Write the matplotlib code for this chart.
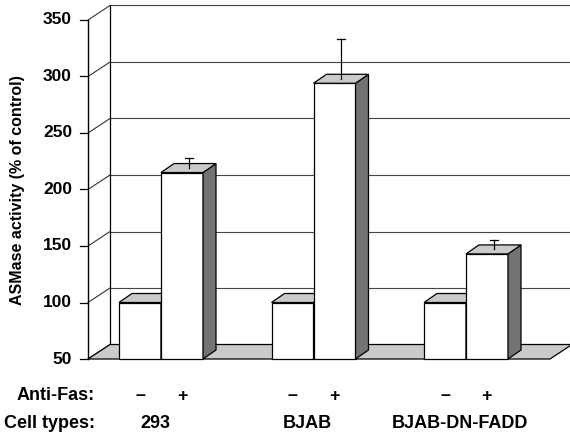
import matplotlib
matplotlib.use("Agg")
import matplotlib.pyplot as plt
from matplotlib.patches import Polygon

# data
cell_types = ["293", "BJAB", "BJAB-DN-FADD"]
anti_fas = ["\u2013", "+"]
minus_vals = [100, 100, 100]
plus_vals = [215, 294, 143]
plus_err = [9, 35, 8]
yticks = [50, 100, 150, 200, 250, 300, 350]

plt.rcParams['font.family'] = ['Liberation Sans', 'DejaVu Sans']
plt.rcParams['font.weight'] = 'bold'

# layout (1 x-unit = spacing between groups, y in data units)
PX = 1 / 152.5       # x units per pixel
PY = 1 / 1.13        # y units per pixel
bw = 42 * PX         # bar width
bdx, bdy = 13 * PX, 9 * PY      # bar depth
wdx, wdy = 22 * PX, 14.5 * PY   # wall depth
ybase, ytop = 50, 350
xf_left = -73 * PX
xf_right = 389 * PX

light = "#cacaca"
dark = "#737373"

fig = plt.figure(figsize=(5.7, 4.42), dpi=100)
ax = fig.add_axes([0, 0, 1, 1])
ax.set_xlim(-161 * PX, 409 * PX)
ax.set_ylim(ybase - 83 * PY, ybase + 359 * PY)
ax.axis('off')

# back wall grid
for t in yticks:
    ax.plot([xf_left - 8 * PX, xf_left], [t, t], color='black', lw=0.9, zorder=1)
    ax.plot([xf_left, xf_left + wdx], [t, t + wdy], color='#333333', lw=0.8, zorder=1)
    if t > ybase:
        ax.plot([xf_left + wdx, xf_right + wdx + 1], [t + wdy, t + wdy],
                color='#444444', lw=0.8, zorder=1)
ax.plot([xf_left + wdx] * 2, [ybase + wdy, ytop + wdy], color='black', lw=0.9, zorder=1)
ax.plot([xf_left] * 2, [ybase, ytop], color='black', lw=1.0, zorder=1)

# floor
floor = Polygon([(xf_left, ybase), (xf_right, ybase),
                 (xf_right + wdx, ybase + wdy), (xf_left + wdx, ybase + wdy)],
                closed=True, facecolor=light, edgecolor='black', lw=0.9, zorder=2)
ax.add_patch(floor)


def box(x0, val, z):
    x1 = x0 + bw
    ax.bar(x0, val - ybase, bottom=ybase, width=bw, align='edge',
           facecolor='white', edgecolor='black', lw=0.9, zorder=z)
    top = Polygon([(x0, val), (x1, val), (x1 + bdx, val + bdy), (x0 + bdx, val + bdy)],
                  closed=True, facecolor=light, edgecolor='black', lw=0.9, zorder=z)
    side = Polygon([(x1, ybase), (x1 + bdx, ybase + bdy), (x1 + bdx, val + bdy), (x1, val)],
                   closed=True, facecolor=dark, edgecolor='black', lw=0.9, zorder=z)
    ax.add_patch(side)
    ax.add_patch(top)


z = 3
for i in range(len(cell_types)):
    xm = i - bw
    xp = i
    box(xm, minus_vals[i], z)
    box(xp, plus_vals[i], z + 1)
    ex = xp + bw / 2 + bdx / 2
    ey = plus_vals[i] + bdy / 2
    ax.plot([ex, ex], [ey, ey + plus_err[i]], color='black', lw=0.9, zorder=z + 2)
    ax.plot([ex - 4 * PX, ex + 4 * PX], [ey + plus_err[i]] * 2, color='black',
            lw=0.9, zorder=z + 2)
    z += 3

    # labels under bars
    ax.text(xm + bw / 2, ybase - 37 * PY, anti_fas[0], ha='center', va='center', fontsize=13)
    ax.text(xp + bw / 2, ybase - 37 * PY, anti_fas[1], ha='center', va='center', fontsize=13)
    ax.text(i - 0.04, ybase - 65 * PY, cell_types[i], ha='center', va='center', fontsize=13)

for t in yticks:
    ax.text(xf_left - 16 * PX, t, str(t), ha='right', va='center', fontsize=12.5)

ax.text(95 * PX - 161 * PX, ybase - 37 * PY, "Anti-Fas:", ha='right', va='center', fontsize=13)
ax.text(95 * PX - 161 * PX, ybase - 65 * PY, "Cell types:", ha='right', va='center', fontsize=13)
ax.text(18 * PX - 161 * PX, ybase + 169 * PY, "ASMase activity (% of control)",
        rotation=90, ha='center', va='center', fontsize=11.5)

fig.savefig("out.png", dpi=100)
